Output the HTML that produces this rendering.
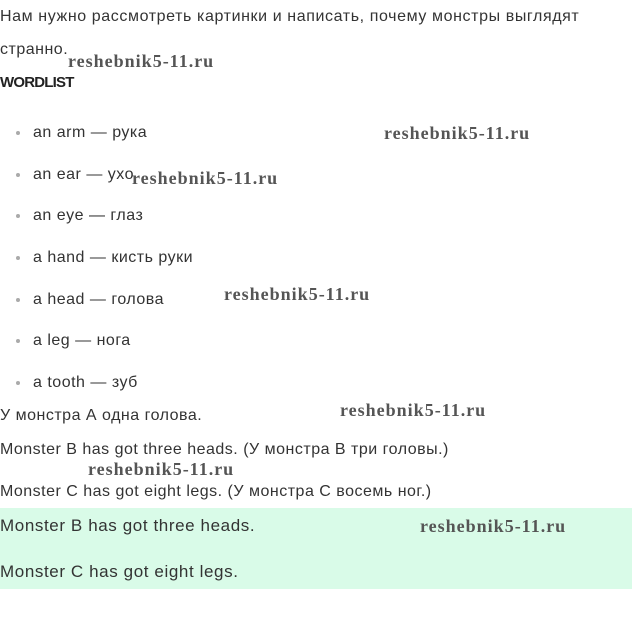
<!DOCTYPE html>
<html><head><meta charset="utf-8"><style>
body{margin:0;width:632px;height:622px;background:#fff;position:relative;overflow:hidden;font-family:"Liberation Sans",sans-serif;color:#333}
.t{position:absolute;left:0;font-size:16px;line-height:20px;white-space:nowrap;letter-spacing:0.5px}
.b{left:33px}
.dot{position:absolute;left:16px;width:4px;height:4px;border-radius:50%;background:#aaa}
.w{position:absolute;font-family:"Liberation Serif",serif;font-weight:bold;font-size:18px;line-height:20px;color:#555;white-space:nowrap;letter-spacing:1px}
.g{position:absolute;left:0;top:508px;width:632px;height:81px;background:#d9fbe8}
.gt{font-size:17px;letter-spacing:0.6px}
</style></head><body>
<div class="t" style="top:7px;letter-spacing:0.6px">Нам нужно рассмотреть картинки и написать, почему монстры выглядят</div>
<div class="t" style="top:40px">странно.</div>
<div class="w" style="left:68px;top:51px">reshebnik5-11.ru</div>
<div class="t" style="top:73px;font-weight:bold;font-size:15px;letter-spacing:-0.8px;color:#222">WORDLIST</div>
<div class="dot" style="top:131px"></div><div class="t b" style="top:123px">an arm — рука</div>
<div class="w" style="left:384px;top:123px">reshebnik5-11.ru</div>
<div class="dot" style="top:173px"></div><div class="t b" style="top:165px">an ear — ухо</div>
<div class="w" style="left:132px;top:168px">reshebnik5-11.ru</div>
<div class="dot" style="top:214px"></div><div class="t b" style="top:206px">an eye — глаз</div>
<div class="dot" style="top:256px"></div><div class="t b" style="top:248px">a hand — кисть руки</div>
<div class="dot" style="top:298px"></div><div class="t b" style="top:290px">a head — голова</div>
<div class="w" style="left:224px;top:284px">reshebnik5-11.ru</div>
<div class="dot" style="top:339px"></div><div class="t b" style="top:331px">a leg — нога</div>
<div class="dot" style="top:381px"></div><div class="t b" style="top:373px">a tooth — зуб</div>
<div class="t" style="top:406px">У монстра А одна голова.</div>
<div class="w" style="left:340px;top:400px">reshebnik5-11.ru</div>
<div class="t" style="top:440px">Monster B has got three heads. (У монстра В три головы.)</div>
<div class="w" style="left:88px;top:459px">reshebnik5-11.ru</div>
<div class="t" style="top:482px">Monster C has got eight legs. (У монстра С восемь ног.)</div>
<div class="g"></div>
<div class="t gt" style="top:516px">Monster B has got three heads.</div>
<div class="w" style="left:420px;top:516px">reshebnik5-11.ru</div>
<div class="t gt" style="top:562px">Monster C has got eight legs.</div>
</body></html>
